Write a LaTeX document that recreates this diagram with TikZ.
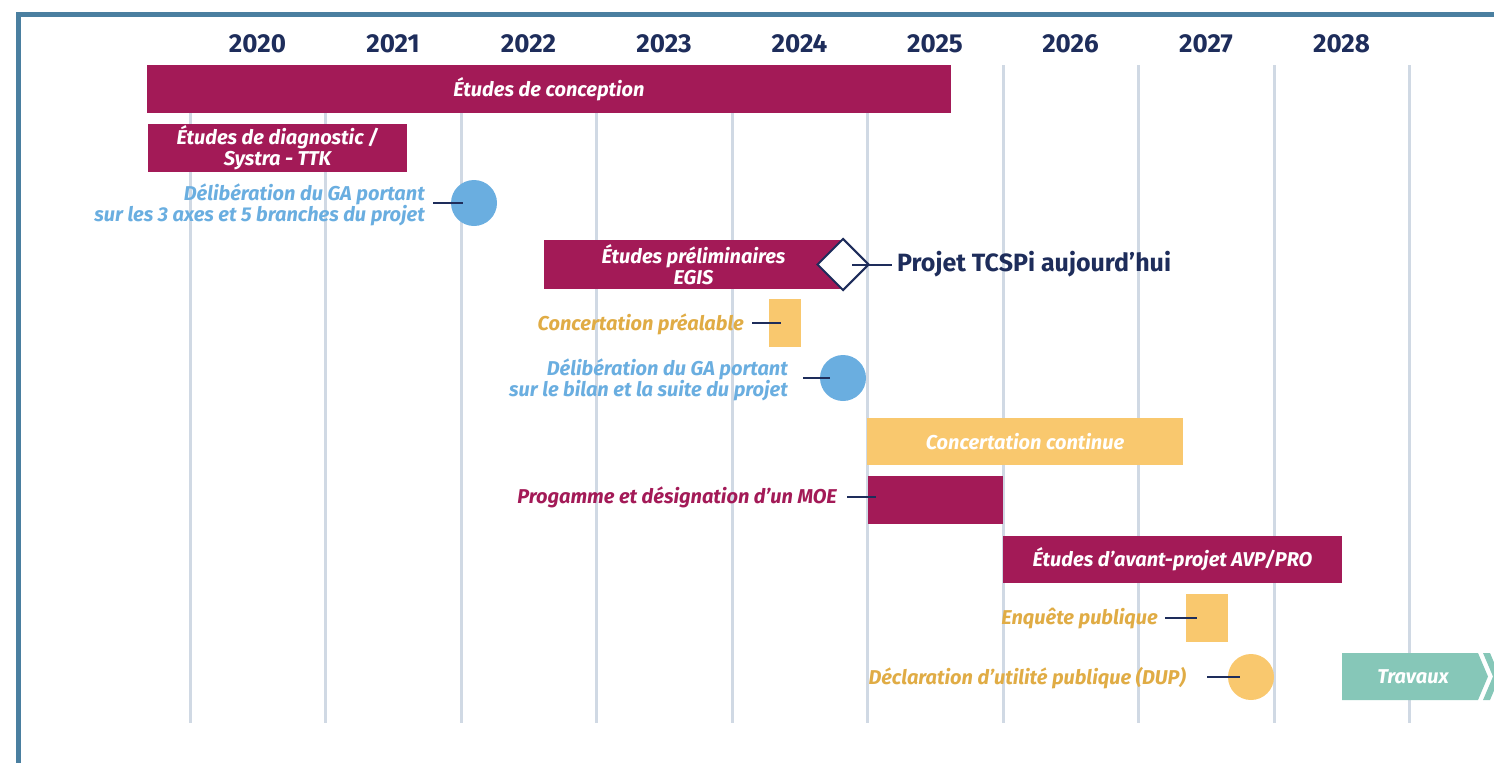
\documentclass[tikz,border=0pt]{standalone}
\usepackage{fontspec}
\setmainfont{Fira Sans}
\usetikzlibrary{shapes.geometric}
\definecolor{frameblue}{HTML}{4A7FA0}
\definecolor{gridgrey}{HTML}{D0D9E4}
\definecolor{navy}{HTML}{1E2D5B}
\definecolor{plum}{HTML}{A31A57}
\definecolor{sky}{HTML}{6AAEE0}
\definecolor{sand}{HTML}{F9C86E}
\definecolor{sandtext}{HTML}{E0AC45}
\definecolor{teal}{HTML}{86C7B8}
\begin{document}
\begin{tikzpicture}[
    x=1pt,
    y=-1pt,
    lbl/.style={font=\fontsize{20}{21}\selectfont\bfseries\itshape, inner sep=0pt, align=right, anchor=east},
    bar/.style={fill=plum, text=white, inner sep=0pt, align=center, font=\fontsize{20}{21}\selectfont\bfseries\itshape},
    milestone/.style={circle, fill=sky, minimum size=46pt, inner sep=0pt},
    link/.style={draw=navy, line width=2pt},
    year/.style={font=\fontsize{26}{26}\selectfont\bfseries, text=navy}
]
\useasboundingbox (0,0) rectangle (1494,763);
\clip (0,0) rectangle (1494,763);

\draw[frameblue, line width=5pt] (18.5,763) -- (18.5,14.5) -- (1494,14.5);

\foreach \x in {190,325.5,461,596.5,732,867.5,1003,1138.5,1274,1409.5} {
    \draw[gridgrey, line width=3pt] (\x,65) -- (\x,723);
}
\foreach \yr [count=\i from 0] in {2020,...,2028} {
    \node[year] (y\yr) at (257.5+135.5*\i,44) {\yr};
}

\node[bar, minimum width=804pt, minimum height=48pt] (conception) at (549,89) {Études de conception};
\node[bar, minimum width=259pt, minimum height=48pt] (diagnostic) at (277.5,148) {Études de diagnostic /\\Systra - TTK};

\node[milestone] (delibA) at (474,203) {};
\node[lbl, text=sky] (delibAtxt) at (425,205) {Délibération du GA portant\\sur les 3 axes et 5 branches du projet};
\draw[link] ([xshift=8pt]delibAtxt.east |- delibA) -- ([xshift=12pt]delibA.west);

\node[bar, minimum width=299pt, minimum height=49pt] (prelim) at (693.5,264.5) {Études préliminaires\\EGIS};
\node[diamond, draw=navy, fill=white, line width=2pt, minimum width=52pt, minimum height=52pt, inner sep=0pt] (today) at (843,264.5) {};
\node[font=\fontsize{25}{25}\selectfont\bfseries, text=navy, anchor=west, inner sep=0pt] (todaytxt) at (897,264) {Projet TCSPi aujourd’hui};
\draw[link] ([xshift=9pt]today.center) -- ([xshift=-5pt]todaytxt.west |- today);

\node[fill=sand, minimum width=32pt, minimum height=48pt, inner sep=0pt] (prealable) at (785,323) {};
\node[lbl, text=sandtext] (prealabletxt) at (744,324) {Concertation préalable};
\draw[link] ([xshift=8pt]prealabletxt.east |- prealable) -- ([xshift=12pt]prealable.west);

\node[milestone] (delibB) at (843,378) {};
\node[lbl, text=sky] (delibBtxt) at (788,380) {Délibération du GA portant\\sur le bilan et la suite du projet};
\draw[link] ([xshift=15pt]delibBtxt.east |- delibB) -- ([xshift=10pt]delibB.west);

\node[bar, fill=sand, minimum width=316pt, minimum height=47pt] (continue) at (1025,441.5) {Concertation continue};

\node[bar, minimum width=135pt, minimum height=48pt] (moe) at (935.5,500) {};
\node[lbl, text=plum] (moetxt) at (837,497) {Progamme et désignation d’un MOE};
\draw[link] ([xshift=10pt]moetxt.east) -- ([xshift=8pt]moe.west |- moetxt.east);

\node[bar, minimum width=339pt, minimum height=47pt] (avp) at (1172.5,559.5) {Études d’avant-projet AVP/PRO};

\node[fill=sand, minimum width=42pt, minimum height=48pt, inner sep=0pt] (enquete) at (1207,618) {};
\node[lbl, text=sandtext] (enquetetxt) at (1158,619) {Enquête publique};
\draw[link] ([xshift=7pt]enquetetxt.east |- enquete) -- ([xshift=11pt]enquete.west);

\node[milestone, fill=sand] (dup) at (1251,677) {};
\node[lbl, text=sandtext] (duptxt) at (1186,678) {Déclaration d’utilité publique (DUP)};
\draw[link] ([xshift=21pt]duptxt.east |- dup) -- ([xshift=12pt]dup.west);

\fill[teal] (1342,653) -- (1478,653) -- (1488,676.5) -- (1478,700) -- (1342,700) -- cycle;
\fill[teal] (1483,653) -- (1490,653) -- (1500,676.5) -- (1490,700) -- (1483,700) -- (1493,676.5) -- cycle;
\node[font=\fontsize{20}{21}\selectfont\bfseries\itshape, text=white] (travaux) at (1413,677) {Travaux};
\end{tikzpicture}
\end{document}
